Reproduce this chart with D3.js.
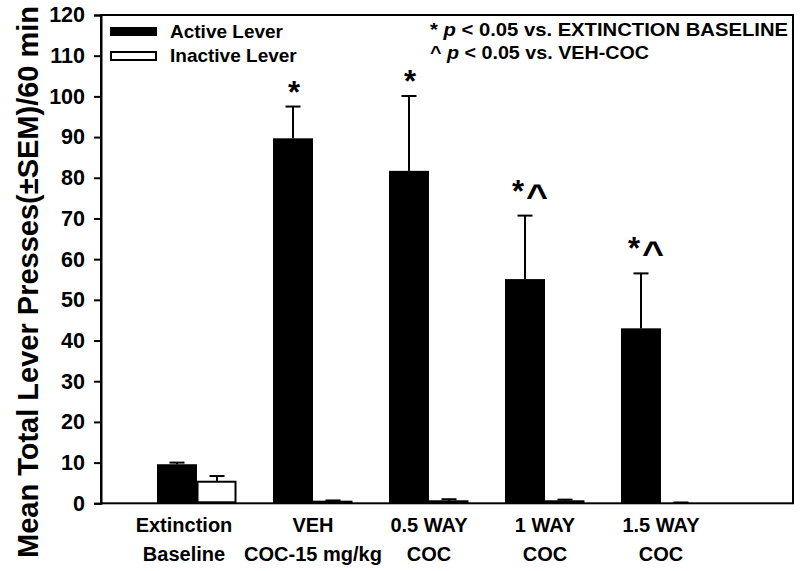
<!DOCTYPE html>
<html><head><meta charset="utf-8">
<script src="https://cdn.jsdelivr.net/npm/d3@7"></script>
<style>body{margin:0;background:#fff}svg{display:block}text{font-family:"Liberation Sans",Arial,sans-serif;font-weight:bold;fill:#000}</style>
</head><body>
<svg id="c" width="800" height="571"></svg>
<script>
const categories = [["Extinction","Baseline"],["VEH","COC-15 mg/kg"],["0.5 WAY","COC"],["1 WAY","COC"],["1.5 WAY","COC"]];
const activeMean = [9.6, 89.7, 81.7, 55.1, 43.0];
const activeSEM  = [0.4, 7.8, 18.4, 15.6, 13.5];
const inactiveMean = [5.3, 0.4, 0.5, 0.5, 0.1];
const inactiveSEM  = [1.4, 0.3, 0.5, 0.4, 0.1];
const annotations = ["", "*", "*", "*^", "*^"];
const yTicks = [0,10,20,30,40,50,60,70,80,90,100,110,120];
const seriesNames = ["Active Lever","Inactive Lever"];

const svg = d3.select("#c");
const L=101, R=793, T=15, B=503.3;
const x = d3.scaleLinear().domain([-0.8276, 5.138]).range([L, R]);
const y = d3.scaleLinear().domain([0,120]).range([B, T]);
const bw = 40;

// frame
svg.append("rect").attr("x",L).attr("y",T).attr("width",R-L).attr("height",B-T)
  .attr("fill","none").attr("stroke","#000").attr("stroke-width",2);

// y axis
const yAxis = d3.axisLeft(y).tickValues(yTicks).tickSize(7).tickPadding(9);
const gy = svg.append("g").attr("transform",`translate(${L},0)`).call(yAxis);
gy.select(".domain").attr("stroke-width",2);
gy.selectAll(".tick line").attr("stroke-width",2);
gy.selectAll(".tick text").style("font-size","21.5px").attr("font-family",null);

// bars
const idx = d3.range(categories.length);
svg.append("g").selectAll("rect").data(idx).join("rect")
  .attr("x",i=>x(i)-bw).attr("width",bw)
  .attr("y",i=>y(activeMean[i])).attr("height",i=>B-y(activeMean[i]))
  .attr("fill","#000");
svg.append("g").selectAll("rect").data(idx).join("rect")
  .attr("x",i=>x(i)+0.5).attr("width",bw-2)
  .attr("y",i=>y(inactiveMean[i])).attr("height",i=>Math.max(0,B-y(inactiveMean[i])-1))
  .attr("fill","#fff").attr("stroke","#000").attr("stroke-width",2);

// error bars (up only)
function err(means, sems, off){
  const g = svg.append("g").attr("stroke","#000").attr("stroke-width",2);
  idx.forEach(i=>{
    const cx = x(i)+off;
    g.append("line").attr("x1",cx).attr("x2",cx).attr("y1",y(means[i])).attr("y2",y(means[i]+sems[i]));
    g.append("line").attr("x1",cx-7.5).attr("x2",cx+7.5).attr("y1",y(means[i]+sems[i])).attr("y2",y(means[i]+sems[i]));
  });
}
err(activeMean, activeSEM, -bw/2);
err(inactiveMean, inactiveSEM, bw/2);

// significance marks
idx.forEach(i=>{
  const a = annotations[i]; if(!a) return;
  const top = y(activeMean[i]+activeSEM[i]);
  const cx = x(i)-bw/2;
  if (a.length===1) {
    svg.append("text").attr("x",cx+1).attr("y",top-4).attr("text-anchor","middle").style("font-size","31px").text("*");
  } else {
    svg.append("text").attr("x",cx-7).attr("y",top-14).attr("text-anchor","middle").style("font-size","31px").text("*");
    svg.append("text").attr("text-anchor","middle")
      .attr("transform",`translate(${cx+12},${top-9}) scale(1.45,1.3)`)
      .style("font-size","26px").text("^");
  }
});

// x labels
idx.forEach(i=>{
  const cx = x(i) + (i===0?-13:0);
  svg.append("text").attr("x",cx).attr("y",532).attr("text-anchor","middle").style("font-size","20px").text(categories[i][0]);
  svg.append("text").attr("x",cx).attr("y",561).attr("text-anchor","middle").style("font-size","20px").text(categories[i][1]);
});

// y label
svg.append("text").attr("transform","translate(38,558) rotate(-90)").attr("text-anchor","start")
  .style("font-size","29px").text("Mean Total Lever Presses(\u00B1SEM)/60 min");

// legend
svg.append("rect").attr("x",110).attr("y",27).attr("width",47).attr("height",9).attr("fill","#000");
svg.append("rect").attr("x",111).attr("y",52).attr("width",45).attr("height",8).attr("fill","#fff").attr("stroke","#000").attr("stroke-width",2);
svg.append("text").attr("x",170).attr("y",38).style("font-size","19px").text(seriesNames[0]);
svg.append("text").attr("x",170).attr("y",62).style("font-size","19px").text(seriesNames[1]);

// significance key
function key(yy, sym, rest, w){
  const t = svg.append("text").attr("x",430).attr("y",yy).style("font-size","18.5px")
    .attr("textLength",w).attr("lengthAdjust","spacingAndGlyphs");
  t.append("tspan").text(sym+" ");
  t.append("tspan").style("font-style","italic").text("p");
  t.append("tspan").text(" < 0.05 vs. "+rest);
}
key(36, "*", "EXTINCTION BASELINE", 358);
key(59, "^", "VEH-COC", 219);
</script>
</body></html>
